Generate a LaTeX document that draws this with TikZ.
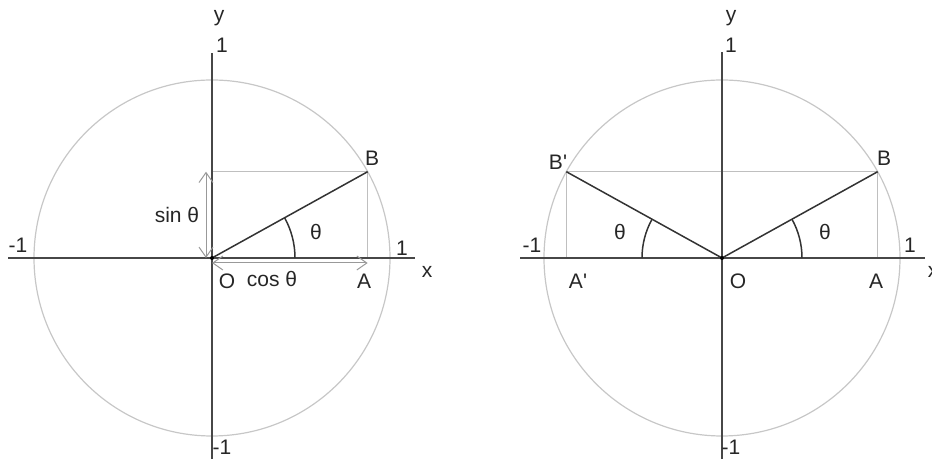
\documentclass[tikz,border=0pt]{standalone}
\usepackage{fontspec}
\setmainfont{Liberation Sans}
\usetikzlibrary{arrows.meta}

\begin{document}
\begin{tikzpicture}[x=0.5pt,y=0.5pt,>={Straight Barb[length=5pt,width=7pt]},
  every node/.style={font=\fontsize{10.5}{12}\selectfont,text=black!85},
  axis/.style={black!72,line width=1pt},
  unit/.style={black!22,line width=0.6pt},
  proj/.style={black!25,line width=0.8pt},
  spoke/.style={black!80,line width=0.75pt},
  measure/.style={<->,black!40,line width=0.5pt}]
  \useasboundingbox (0,0) rectangle (932,459);
  % left: sin and cos of the angle
  \begin{scope}[shift={(212,201)}]
    \coordinate (O) at (0,0);
    \coordinate (B) at (29:178);
    \coordinate (A) at (B |- O);
    \coordinate (S) at (B -| O);
    \draw[unit] (O) circle (178);
    \draw[proj] (S) -- (B) -- (A);
    \draw[axis] (-204,0) -- (203,0);
    \draw[axis] (0,-201) -- (0,205);
    \draw[spoke] (O) -- (B);
    \draw[spoke] (83,0) arc[start angle=0,end angle=29,radius=41.5pt];
    \draw[measure] ([xshift=-3pt]O) -- ([xshift=-3pt]S);
    \draw[measure] ([yshift=-2.5pt]O) -- ([yshift=-2.5pt]A);
    \fill (O) circle (2);
    \node (ylab) at (7,240) {y};
    \node (ytop) at (10,213) {1};
    \node (xneg) at (-194,13) {-1};
    \node (xpos) at (190,10) {1};
    \node (xlab) at (215,-14) {x};
    \node (ybot) at (10,-189) {-1};
    \node (Olab) at (15,-23) {O};
    \node (coslab) at (60,-21) {cos θ};
    \node (Alab) at (152,-23) {A};
    \node (Blab) at (160,100) {B};
    \node (sinlab) at (-35,43) {sin θ};
    \node (thlab) at (104,26) {θ};
  \end{scope}
  % right: the angle and its supplement
  \begin{scope}[shift={(722,201)}]
    \coordinate (rO) at (0,0);
    \coordinate (rB) at (29:178);
    \coordinate (rBp) at (151:178);
    \coordinate (rA) at (rB |- rO);
    \coordinate (rAp) at (rBp |- rO);
    \draw[unit] (rO) circle (178);
    \draw[proj] (rA) -- (rB) -- (rBp) -- (rAp);
    \draw[axis] (-202,0) -- (203,0);
    \draw[axis] (0,-201) -- (0,206);
    \draw[spoke] (rBp) -- (rO) -- (rB);
    \draw[spoke] (80,0) arc[start angle=0,end angle=29,radius=40pt];
    \draw[spoke] (-80,0) arc[start angle=180,end angle=151,radius=40pt];
    \fill (rO) circle (2);
    \node (rylab) at (9,240) {y};
    \node (rytop) at (9,213) {1};
    \node (rxneg) at (-190,13) {-1};
    \node (rxpos) at (188,13) {1};
    \node (rxlab) at (211,-14) {x};
    \node (rybot) at (9,-189) {-1};
    \node (rOlab) at (16,-23) {O};
    \node (rAlab) at (154,-23) {A};
    \node (rAplab) at (-144,-23) {A\textquotesingle};
    \node (rBlab) at (162,100) {B};
    \node (rBplab) at (-164,96) {B\textquotesingle};
    \node (rthlab) at (103,26) {θ};
    \node (rthplab) at (-102,26) {θ};
  \end{scope}
\end{tikzpicture}
\end{document}
